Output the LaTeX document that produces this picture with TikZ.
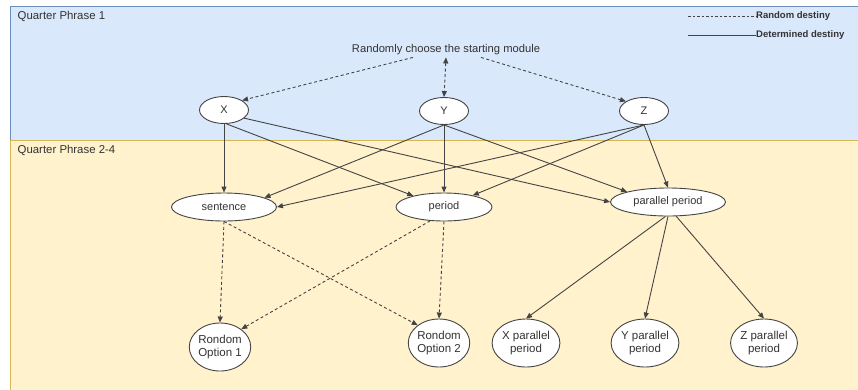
\documentclass[tikz,border=0pt]{standalone}
\usepackage{fontspec}
\setmainfont{Liberation Sans}
\usetikzlibrary{shapes.geometric,arrows.meta}

\definecolor{bandblue}{HTML}{DAE8FC}
\definecolor{bandblueline}{HTML}{6C8EBF}
\definecolor{bandyellow}{HTML}{FFF2CC}
\definecolor{bandyellowline}{HTML}{D6B656}
\definecolor{ink}{HTML}{333333}
\definecolor{wire}{HTML}{444444}

\tikzset{
  module/.style={ellipse, draw=wire, line width=0.9pt, fill=white, inner sep=0pt,
    text=ink, font=\fontsize{11}{12}\selectfont},
  small/.style={module, minimum width=49pt, minimum height=27pt},
  wide/.style={module, minimum height=28pt},
  leaf/.style={module, minimum width=58pt, minimum height=48pt, align=center,
    font=\fontsize{11.5}{13}\selectfont},
  fixed/.style={draw=wire, line width=0.9pt, -{Triangle[length=6pt,width=5pt]}},
  random/.style={fixed, dash pattern=on 3pt off 2.5pt},
  bandlabel/.style={anchor=north west, text=ink, inner sep=0pt, font=\fontsize{11.4}{13}\selectfont},
  legendtext/.style={anchor=west, inner sep=0pt, text=ink, font=\fontsize{9.5}{11}\bfseries\selectfont},
}

\begin{document}
\begin{tikzpicture}[x=1pt,y=-1pt]
\clip (0,0) rectangle (858,389);
\fill[white] (0,0) rectangle (858,389);

% phase bands
\filldraw[fill=bandblue, draw=bandblueline, line width=0.8pt] (10,6) rectangle (870,140);
\filldraw[fill=bandyellow, draw=bandyellowline, line width=0.8pt] (10,140) rectangle (870,400);
\node[bandlabel] (p1) at (17.5,11) {Quarter Phrase 1};
\node[bandlabel] (p2) at (17.5,145) {Quarter Phrase 2-4};

% legend
\node[legendtext] (legR) at (756,16) {Random destiny};
\node[legendtext] (legD) at (756,35) {Determined destiny};
\coordinate (lr) at (688,16);
\coordinate (ld) at (688,35);
\draw[draw=wire, line width=0.8pt, dash pattern=on 2.5pt off 2pt] (lr) -- (legR.west);
\draw[draw=wire, line width=0.8pt] (ld) -- (legD.west);

% starting modules
\node[text=ink, inner sep=2pt, font=\fontsize{11.2}{12}\selectfont] (rand) at (446,50) {Randomly choose the starting module};
\node[small] (X) at (224,110) {X};
\node[small] (Y) at (444,111) {Y};
\node[small] (Z) at (644,111) {Z};

% second level
\node[wide, minimum width=105pt] (sent) at (224,207) {sentence};
\node[wide, minimum width=96pt] (per) at (444,207) {period};
\node[wide, minimum width=115pt] (par) at (668,202) {parallel period};

% leaves
\node[leaf] (o1) at (220,347) {Rondom\\Option 1};
\node[leaf] (o2) at (439,343) {Rondom\\Option 2};
\node[leaf] (xp) at (526,343) {X parallel\\period};
\node[leaf] (yp) at (645,343) {Y parallel\\period};
\node[leaf] (zp) at (764,343) {Z parallel\\period};

% random choice of the start
\draw[random] ([xshift=-33pt]rand.south) -- (X.28);
\draw[random, {Triangle[length=6pt,width=5pt]}-{Triangle[length=6pt,width=5pt]}] (rand.south) -- (Y.north);
\draw[random] ([xshift=35pt]rand.south) -- (Z.152);

% determined transitions
\draw[fixed] (X.south) -- (sent.north);
\draw[fixed] (X.-80) -- (per.160);
\draw[fixed] (X.-22) -- (par.west);
\draw[fixed] (Y.south) -- (sent.13);
\draw[fixed] (Y.south) -- (per.north);
\draw[fixed] (Y.south) -- (par.166);
\draw[fixed] (Z.south) -- (sent.east);
\draw[fixed] (Z.south) -- (per.22);
\draw[fixed] (Z.south) -- (par.north);

% random outcomes
\draw[random] (sent.south) -- (o1.north);
\draw[random] (sent.south) -- (o2.140);
\draw[random] (per.-135) -- (o1.40);
\draw[random] (per.south) -- (o2.north);

% parallel period split
\draw[fixed] (par.-100) -- (xp.north);
\draw[fixed] (par.south) -- (yp.north);
\draw[fixed] (par.-60) -- (zp.north);
\end{tikzpicture}
\end{document}
